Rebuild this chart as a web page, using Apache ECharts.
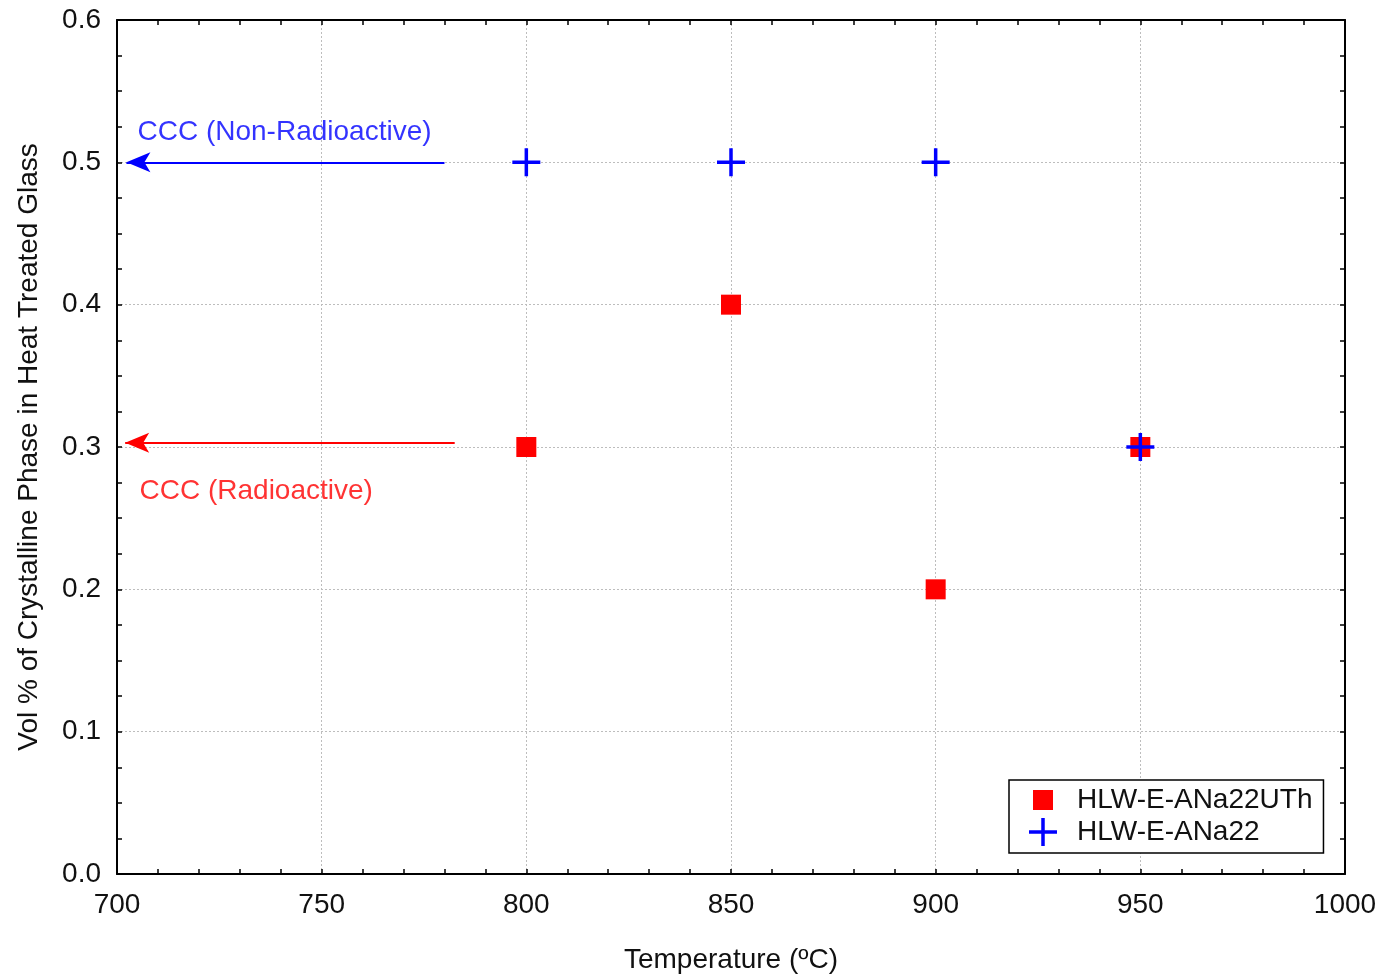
<!DOCTYPE html>
<html>
<head>
<meta charset="utf-8">
<script src="https://cdn.jsdelivr.net/npm/echarts@6/dist/echarts.min.js"></script>
<style>
html,body{margin:0;padding:0;background:#fff;}
#chart{width:1380px;height:979px;}
</style>
</head>
<body>
<div id="chart"></div>
<script>
// ---- data ----
var temperatures = [800, 850, 900, 950];
var radioactiveValues = [0.3, 0.4, 0.2, 0.3];      // HLW-E-ANa22UTh
var nonRadioactiveValues = [0.5, 0.5, 0.5, 0.3];   // HLW-E-ANa22
var seriesNames = ['HLW-E-ANa22UTh', 'HLW-E-ANa22'];
var cccNonRadioactive = {label: 'CCC (Non-Radioactive)', value: 0.5, from: 780, to: 702.3};
var cccRadioactive = {label: 'CCC (Radioactive)', value: 0.303, from: 782.5, to: 702};
var annotationNonRad = [705.0, 0.5214];
var annotationRad = [705.5, 0.2688];
var xTicks = [700, 750, 800, 850, 900, 950, 1000];
var yTicks = [0.0, 0.1, 0.2, 0.3, 0.4, 0.5, 0.6];

var FONT = '"Liberation Sans", Arial, sans-serif';
var FS = 28;
var plusPath = 'path://M12.25,0H15.75V12.25H28V15.75H15.75V28H12.25V15.75H0V12.25H12.25Z';
var squareLegendPath = 'path://M0,0L0.01,0L0,0.01Z M28,28L27.99,28L28,27.99Z M4,4H24V24H4Z';

function pairs(xs, ys){ return xs.map(function(x,i){ return [x, ys[i]]; }); }

var chart = echarts.init(document.getElementById('chart'), null, {renderer:'canvas'});

var axisCommonX = {
  type:'value', min: xTicks[0], max: xTicks[xTicks.length-1], interval: 50,
  axisLine:{show:true, onZero:false, lineStyle:{color:'#000', width:2}},
  axisTick:{show:true, inside:true, length:5, lineStyle:{color:'#000', width:1.5}},
  minorTick:{show:true, splitNumber:5, length:5, lineStyle:{color:'#000', width:1.5}}
};
var axisCommonY = {
  type:'value', min: yTicks[0], max: yTicks[yTicks.length-1], interval: 0.1,
  axisLine:{show:true, onZero:false, lineStyle:{color:'#000', width:2}},
  axisTick:{show:true, inside:true, length:5, lineStyle:{color:'#000', width:1.5}},
  minorTick:{show:true, splitNumber:4, length:5, lineStyle:{color:'#000', width:1.5}}
};

var option = {
  backgroundColor:'#fff',
  animation:false,
  grid:{left:117, right:35, top:20, bottom:104, containLabel:false},
  xAxis:[
    Object.assign({}, axisCommonX, {
      position:'bottom',
      name:'Temperature (\u00BAC)', nameLocation:'middle', nameGap:72,
      nameTextStyle:{fontFamily:FONT, fontSize:FS, color:'#111'},
      axisLabel:{show:true, margin:17, fontFamily:FONT, fontSize:FS, color:'#111',
        formatter:function(v){ return String(v); }},
      splitLine:{show:true, lineStyle:{color:'#bdbdbd', type:[2,2], width:1}}
    }),
    Object.assign({}, axisCommonX, {
      position:'top', axisLabel:{show:false}, splitLine:{show:false}
    })
  ],
  yAxis:[
    Object.assign({}, axisCommonY, {
      position:'left',
      name:'Vol % of Crystalline Phase in Heat Treated Glass', nameLocation:'middle', nameGap:74,
      nameTextStyle:{fontFamily:FONT, fontSize:FS, color:'#111'},
      axisLabel:{show:true, margin:16, fontFamily:FONT, fontSize:FS, color:'#111',
        formatter:function(v){ return v.toFixed(1); }},
      splitLine:{show:true, lineStyle:{color:'#bdbdbd', type:[2,2], width:1}}
    }),
    Object.assign({}, axisCommonY, {
      position:'right', axisLabel:{show:false}, splitLine:{show:false}
    })
  ],
  legend:{
    orient:'vertical', left:1009, top:780,
    backgroundColor:'#fff', borderColor:'#000', borderWidth:1.5, borderRadius:0,
    padding:[6, 11, 7, 20],
    itemWidth:28, itemHeight:28, itemGap:4,
    textStyle:{fontFamily:FONT, fontSize:FS, color:'#111', padding:[0,0,0,15]},
    data:[
      {name:seriesNames[0], icon:squareLegendPath, itemStyle:{color:'#ff0000'}},
      {name:seriesNames[1], icon:plusPath, itemStyle:{color:'#0000ff'}}
    ]
  },
  series:[
    {
      name:seriesNames[0], type:'scatter', symbol:'rect', symbolSize:20,
      itemStyle:{color:'#ff0000', opacity:1}, z:3,
      data:pairs(temperatures, radioactiveValues)
    },
    {
      name:seriesNames[1], type:'scatter', symbol:plusPath, symbolSize:28,
      itemStyle:{color:'#0000ff', opacity:1}, z:4,
      data:pairs(temperatures, nonRadioactiveValues)
    },
    {
      name:'annotations', type:'scatter', symbolSize:0, silent:true, z:5,
      data:[
        {value:annotationNonRad, label:{show:true, position:'right', distance:0, formatter:cccNonRadioactive.label,
          fontFamily:FONT, fontSize:FS, color:'#0000ff'}},
        {value:annotationRad, label:{show:true, position:'right', distance:0, formatter:cccRadioactive.label,
          fontFamily:FONT, fontSize:FS, color:'#ff0000'}}
      ],
      markLine:{
        silent:true, animation:false,
        symbol:['none','arrow'], symbolSize:[15,24],
        label:{show:false},
        data:[
          [{coord:[cccNonRadioactive.from, cccNonRadioactive.value], lineStyle:{color:'#0000ff', width:2, type:'solid'}, itemStyle:{color:'#0000ff'}},
           {coord:[cccNonRadioactive.to, cccNonRadioactive.value]}],
          [{coord:[cccRadioactive.from, cccRadioactive.value], lineStyle:{color:'#ff0000', width:2, type:'solid'}, itemStyle:{color:'#ff0000'}},
           {coord:[cccRadioactive.to, cccRadioactive.value]}]
        ]
      }
    }
  ]
};
chart.setOption(option);
</script>
</body>
</html>
